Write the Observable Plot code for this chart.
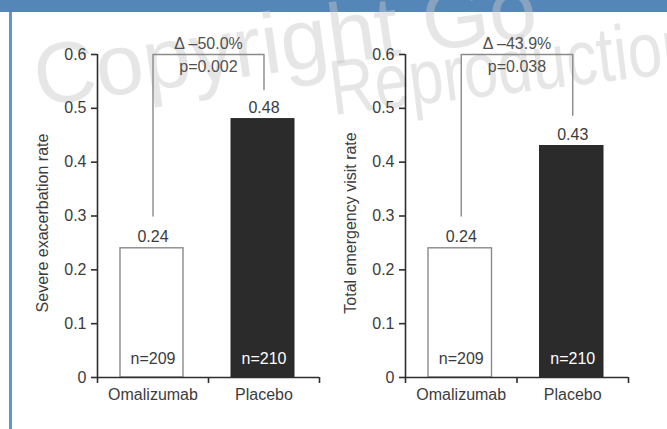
<!DOCTYPE html>
<html>
<head>
<meta charset="utf-8">
<script src="https://cdn.jsdelivr.net/npm/d3@7"></script>
<script src="https://cdn.jsdelivr.net/npm/@observablehq/plot@0.6"></script>
<style>
  html, body { margin: 0; padding: 0; background: #fff; }
  #fig { position: relative; width: 667px; height: 429px; overflow: hidden; background: #fff;
         font-family: "Liberation Sans", Arial, Helvetica, sans-serif; }
  #topbar { position: absolute; left: 0; top: 0; width: 667px; height: 12px; background: #5586b8; }
  #leftbar { position: absolute; left: 9px; top: 12px; width: 3px; height: 417px; background: #6895c6; }
  .wm { position: absolute; white-space: nowrap; line-height: 1; color: rgba(200,200,200,0.45);
        font-family: "Liberation Sans", Arial, sans-serif; }
  .panel { position: absolute; top: 0; }
  .panel svg { overflow: visible; }
</style>
</head>
<body>
<div id="fig">
  <div id="topbar"></div>
  <div id="leftbar"></div>
  <div class="wm" id="wm1" style="left:38px; top:33px; font-size:86px; transform-origin:0 73px; transform:rotate(-8deg);">Copyright Go</div>
  <div class="wm" id="wm2" style="left:333px; top:63px; font-size:62px; transform-origin:0 52px; transform:rotate(-7deg) scale(1, 1.25);">Reproduction</div>
  <div class="panel" id="p1" style="left:0px;"></div>
  <div class="panel" id="p2" style="left:333px;"></div>
</div>
<script>
// ---- data ----
const categories = ["Omalizumab", "Placebo"];
const exacerbationRate = [0.24, 0.48];
const emergencyVisitRate = [0.24, 0.43];
const nPatients = [209, 210];
const yTicks = [0, 0.1, 0.2, 0.3, 0.4, 0.5, 0.6];
const yLabels = ["Severe exacerbation rate", "Total emergency visit rate"];
const deltaLabels = ["\u0394 \u201350.0%", "\u0394 \u201343.9%"];
const pLabels = ["p=0.002", "p=0.038"];
const bracketTop = [0.6, 0.6];
const bracketLeftEnd = [0.30, 0.30];
const bracketRightEnd = [0.535, 0.487];

const FONT = "'Liberation Sans', Arial, Helvetica, sans-serif";
const axisColor = "#2e2e2e";
const textColor = "#3c3c3c";
const darkBar = "#2b2b2b";

function panel(k, values, width, marginLeft, marginRight) {
  const rows = categories.map((c, i) => ({cat: c, i, v: values[i], n: nPatients[i]}));
  const bracket = [
    {x: 0.5, y: bracketLeftEnd[k]},
    {x: 0.5, y: bracketTop[k]},
    {x: 1.5, y: bracketTop[k]},
    {x: 1.5, y: bracketRightEnd[k]}
  ];
  return Plot.plot({
    width, height: 429,
    marginLeft, marginRight, marginTop: 54, marginBottom: 52,
    style: {fontFamily: FONT, fontSize: "16px", color: textColor, background: "transparent", overflow: "visible"},
    x: {domain: [0, categories.length], axis: null},
    y: {domain: [0, 0.6], axis: null},
    marks: [
      Plot.rectY(rows.filter(d => d.i === 0), {x1: "i", x2: d => d.i + 1, y1: 0, y2: "v", insetLeft: 23, insetRight: 25,
        fill: "white", stroke: "#8a8a8a", strokeWidth: 1.4}),
      Plot.rectY(rows.filter(d => d.i === 1), {x1: "i", x2: d => d.i + 1, y1: 0, y2: "v", insetLeft: 23, insetRight: 25,
        fill: darkBar, stroke: darkBar, strokeWidth: 1}),
      // axes
      Plot.ruleY([0], {stroke: axisColor, strokeWidth: 1.6}),
      Plot.ruleX([0], {y1: 0, y2: 0.6, stroke: axisColor, strokeWidth: 1.6}),
      Plot.axisY({ticks: yTicks, tickFormat: d => d === 0 ? "0" : d.toFixed(1), tickSize: 6, tickPadding: 5,
        stroke: axisColor, strokeWidth: 1.6, fill: textColor, fontSize: 16, label: null}),
      Plot.axisX({ticks: [0, 1, 2], tickFormat: () => "", tickSize: 6, stroke: axisColor, strokeWidth: 1.6, label: null}),
      Plot.axisX({ticks: categories.map((c, i) => i + 0.5), tickFormat: d => categories[Math.floor(d)],
        tickSize: 0, tickPadding: 11, fill: textColor, fontSize: 16, label: null}),
      // value labels
      Plot.text(rows, {x: d => d.i + 0.5, y: "v", text: d => d.v.toFixed(2), dy: -11, fontSize: 16, fill: textColor}),
      Plot.text(rows.filter(d => d.i === 0), {x: d => d.i + 0.5, y: 0, text: d => "n=" + d.n, dy: -19, fontSize: 16, fill: textColor}),
      Plot.text(rows.filter(d => d.i === 1), {x: d => d.i + 0.5, y: 0, text: d => "n=" + d.n, dy: -19, fontSize: 16, fill: "white"}),
      // bracket
      Plot.line(bracket, {x: "x", y: "y", stroke: "#8a8a8a", strokeWidth: 1.4}),
      Plot.text([deltaLabels[k]], {x: 1, y: bracketTop[k], text: d => d, dy: -11, fontSize: 16, fill: "#505050"}),
      Plot.text([pLabels[k]], {x: 1, y: bracketTop[k], text: d => d, dy: 12, fontSize: 16, fill: "#505050"}),
      // y label
      Plot.text([yLabels[k]], {frameAnchor: "left", rotate: -90, textAnchor: "middle", dx: -55, dy: 7,
        text: d => d, fontSize: 16, fill: textColor})
    ]
  });
}

document.getElementById("p1").appendChild(panel(0, exacerbationRate, 333, 97, 14));
document.getElementById("p2").appendChild(panel(1, emergencyVisitRate, 334, 72, 39));
</script>
</body>
</html>
